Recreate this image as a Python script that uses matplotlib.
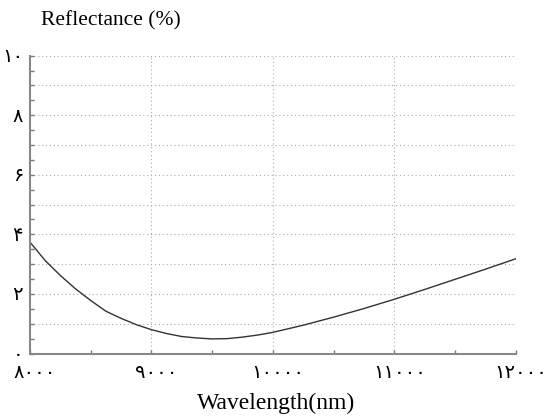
import matplotlib
matplotlib.use("Agg")
import matplotlib.pyplot as plt
from matplotlib.ticker import MultipleLocator
import matplotlib.transforms as mtransforms

wavelength = [8000, 8125, 8250, 8375, 8500, 8625, 8750, 8875, 9000, 9125, 9250,
              9375, 9500, 9625, 9750, 9875, 10000, 10250, 10500, 10750, 11000,
              11250, 11500, 11750, 12000]
reflectance = [3.74, 3.12, 2.62, 2.17, 1.78, 1.42, 1.18, 0.97, 0.80, 0.67, 0.57,
               0.52, 0.49, 0.50, 0.55, 0.62, 0.71, 0.95, 1.22, 1.51, 1.82,
               2.15, 2.49, 2.83, 3.18]

x_ticks = [8000, 9000, 10000, 11000, 12000]
x_labels = ['۸۰۰۰', '۹۰۰۰', '۱۰۰۰۰', '۱۱۰۰۰', '۱۲۰۰۰']
y_ticks = [0, 2, 4, 6, 8, 10]
y_labels = ['۰', '۲', '۴', '۶', '۸', '۱۰']

fam = ['Liberation Serif', 'DejaVu Sans']
plt.rcParams['font.family'] = fam

fig = plt.figure(figsize=(5.5, 4.16), dpi=100)
ax = fig.add_axes([30/550, 1-353.5/416, (515.7-30)/550, (353.5-55.7)/416])

ax.plot(wavelength, reflectance, color='#333333', lw=1.0)

ax.set_xlim(8000, 12000)
ax.set_ylim(0, 10)

# grid lines
for gx in x_ticks[1:]:
    ax.axvline(gx, color='#aaaaaa', lw=0.8, ls=(0, (1, 2.5)), zorder=0)
for gy in range(1, 11):
    ax.axhline(gy, color='#aaaaaa', lw=0.8, ls=(0, (1, 2.5)), zorder=0)

ax.set_xticks(x_ticks)
ax.set_xticklabels(x_labels, fontsize=14)
ax.set_yticks(y_ticks)
ax.set_yticklabels(y_labels, fontsize=14)
ax.xaxis.set_minor_locator(MultipleLocator(500))
ax.yaxis.set_minor_locator(MultipleLocator(0.5))
ax.tick_params(which='both', direction='in', length=3, width=1, color='#777777')
ax.tick_params(axis='x', which='major', pad=8)
ax.tick_params(axis='y', which='major', pad=5)

offset = mtransforms.ScaledTranslation(5/100, 0, fig.dpi_scale_trans)
for lab in ax.get_xticklabels():
    lab.set_transform(lab.get_transform() + offset)

for s in ['top', 'right']:
    ax.spines[s].set_visible(False)
for s in ['left', 'bottom']:
    ax.spines[s].set_color('#888888')
    ax.spines[s].set_linewidth(1.5)

fig.text(111/550, 1-21/416, 'Reflectance (%)', fontsize=15.5, ha='center', va='center')
fig.text(276/550, 1-403/416, 'Wavelength(nm)', fontsize=17, ha='center', va='center')

fig.savefig('out.png', dpi=100)
